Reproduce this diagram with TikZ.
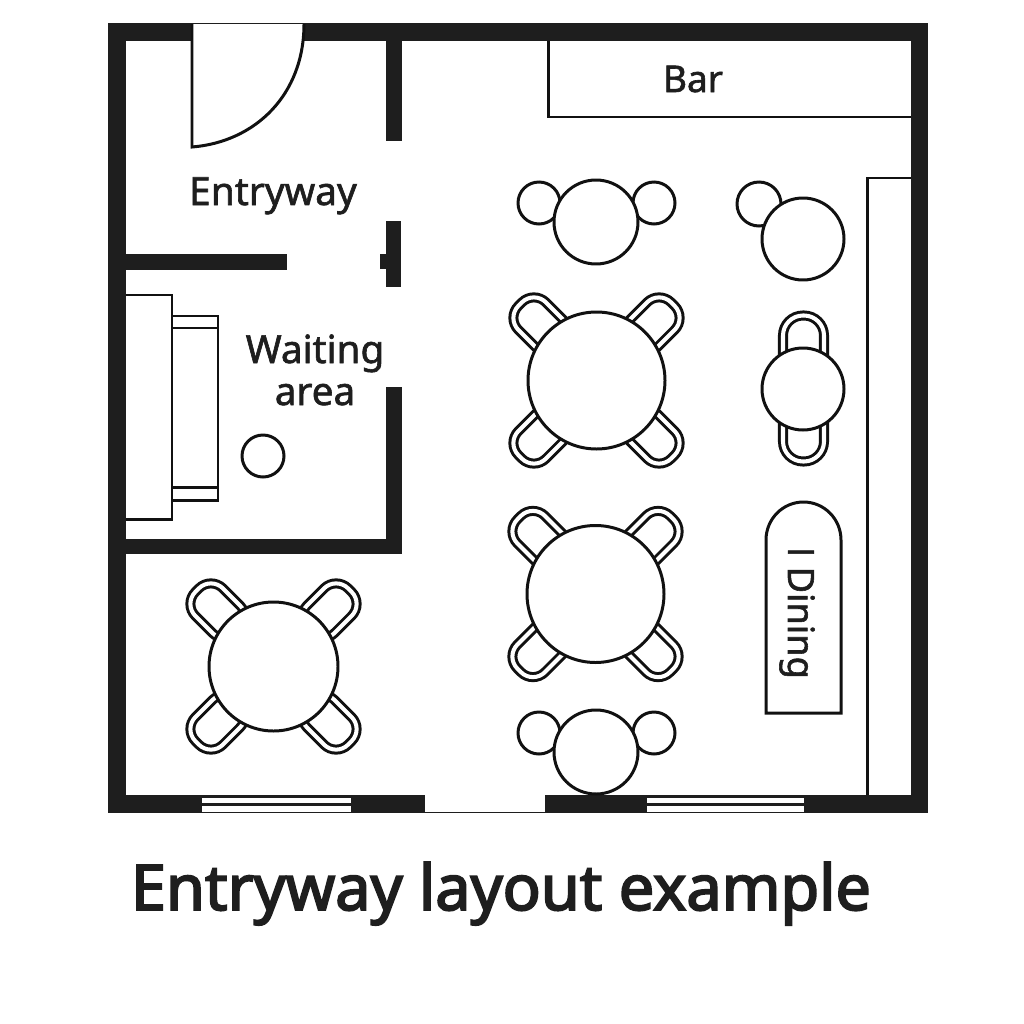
\documentclass[tikz,border=0pt]{standalone}
\usepackage{fontspec}
\setmainfont{Noto Sans}
\newfontfamily\labelfont[FakeBold=1.6]{Noto Sans}
\newfontfamily\titlefont[FakeBold=3]{Noto Sans}
\newfontfamily\capfont[FakeBold=1.2]{Open Sans}
\begin{document}
\begin{tikzpicture}[x=0.01cm,y=-0.01cm,line cap=butt,line join=miter,
	wall/.style={fill=wallcol,draw=none},
	thin line/.style={draw=linecol,line width=0.85pt,fill=white},
	chairline/.style={draw=linecol,line width=0.85pt,double=white,double distance=1.15pt,rounded corners=0.17cm},
	lbl/.style={text=wallcol,inner sep=0pt,anchor=base}]
	\definecolor{wallcol}{HTML}{1E1E1E}
	\definecolor{linecol}{HTML}{111111}
	\useasboundingbox[fill=white] (0,0) rectangle (1024,1024);
	\def\fourtable(#1,#2,#3){% ban 4 ghe
		\foreach \a in {45,135,225,315}
			\draw[chairline,shift={(#1,#2)},rotate=\a] (50,-19.5) rectangle (108,19.5);
		\draw[thin line] (#1,#2) circle[radius=#3];}
	\def\twotable(#1,#2){% ban 2 ghe tron
		\draw[thin line] (#1-57,#2-19) circle[radius=21];
		\draw[thin line] (#1+58,#2-19) circle[radius=21];
		\draw[thin line] (#1,#2) circle[radius=42];}
	%--------- Tuong
	\fill[wall] (108,23) rectangle (928,813);
	\fill[white] (126,41) rectangle (911,795);
	\fill[wall] (126,254) rectangle (287,270);
	\fill[wall] (126,539) rectangle (402,554);
	\fill[wall] (386,387) rectangle (402,554);
	\fill[wall] (386,41) rectangle (402,141);
	\fill[wall] (386,221) rectangle (401,287);
	\fill[wall] (380,254) rectangle (386,269);
	%--------- Cua vao
	\fill[white] (425,795) rectangle (545,811.5);
	\fill[white] (193,24) rectangle (304,41);
	\draw[linecol,line width=0.85pt] (192,24)--(192,147) .. controls (255,142) and (304,95) .. (304,24);
	%--------- Cua so
	\foreach \xa/\xb in {202/351,647/804}{
		\fill[white] (\xa,798) rectangle (\xb,803);
		\fill[white] (\xa,806) rectangle (\xb,812);}
	%--------- Quay
	\draw[thin line,fill=none] (548,41)--(548,117)--(911,117);
	\draw[thin line,fill=none] (867,795)--(867,178)--(911,178);
	%--------- Sofa
	\draw[thin line] (172,316) rectangle (218,500);
	\draw[thin line] (172,328)--(218,328) (172,487)--(218,487);
	\draw[thin line] (126,295)--(172,295)--(172,519)--(126,519);
	\draw[thin line] (263,456) circle[radius=21];
	%--------- Ban
	\twotable(596,222)
	\twotable(596,752)
	\fourtable(596.5,380.5,68.5)
	\fourtable(595.5,594,68.5)
	\fourtable(273.5,666.5,64.5)
	\draw[thin line] (759,204) circle[radius=22];
	\draw[thin line] (803,239) circle[radius=41];
	\draw[chairline,rounded corners=0.2cm] (783,315.5) rectangle (824,461.5);
	\draw[thin line] (803,389) circle[radius=41];
	\draw[thin line] (766,713)--(766,540) arc[start angle=180,end angle=360,x radius=37.5,y radius=38]--(841,713)--cycle;
	%--------- Chu
	\node[lbl] (entryway) at (273,205) {\fontsize{11.05}{12}\labelfont Entryway};
	\node[lbl] (waiting) at (315,363) {\fontsize{11}{12}\labelfont Waiting};
	\node[lbl] (area) at (315,405) {\fontsize{11}{12}\labelfont area};
	\node[lbl] (bar) at (693,92) {\fontsize{10.5}{12}\labelfont Bar};
	\node[text=wallcol,inner sep=0pt,rotate=-90] (dining) at (797,613) {\fontsize{10.3}{12}\labelfont{\capfont I} Dining};
	\node[lbl] (title) at (501,910) {\fontsize{17.9}{18}\titlefont Entryway layout example};
\end{tikzpicture}
\end{document}
